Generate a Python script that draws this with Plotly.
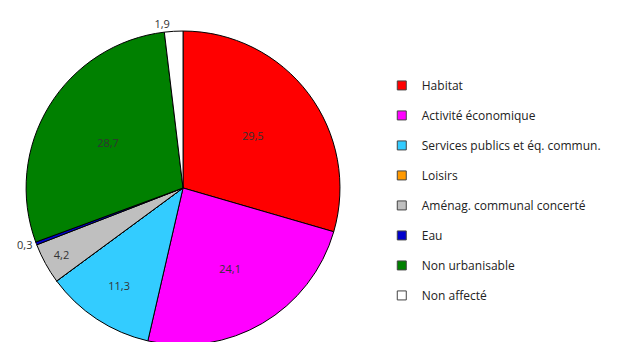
import plotly.graph_objects as go

categories = ["Habitat", "Activité économique", "Services publics et éq. commun.", "Loisirs",
              "Aménag. communal concerté", "Eau", "Non urbanisable", "Non affecté"]
values = [29.5, 24.1, 11.3, 0.0, 4.2, 0.3, 28.7, 1.9]
colors = ["#FF0000", "#FF00FF", "#33CCFF", "#FF9900", "#BFBFBF", "#0000CC", "#008000", "#FFFFFF"]

labels_txt = [("%.1f" % v).replace(".", ",") if v > 0 else "" for v in values]
positions = ["outside" if 0 < v < 2 else "inside" for v in values]

fig = go.Figure()
fig.add_trace(go.Pie(
    labels=categories, values=values, text=labels_txt, textinfo="text",
    textposition=positions, insidetextorientation="horizontal",
    sort=False, direction="clockwise", rotation=0,
    marker=dict(colors=colors, line=dict(color="#000000", width=1)),
    textfont=dict(family="Open Sans", size=11, color="#333333"),
    outsidetextfont=dict(family="Open Sans", size=11, color="#333333"),
    domain=dict(x=[0.029, 0.532], y=[0.0146, 0.933]),
    showlegend=False, hoverinfo="label+value",
))

for cat, col in zip(categories, colors):
    fig.add_trace(go.Scatter(
        x=[None], y=[None], mode="markers", name=cat, legendgroup=cat,
        marker=dict(symbol="square", size=9, color=col, line=dict(color="#444444", width=1)),
    ))

fig.update_layout(
    width=624, height=342, margin=dict(l=0, r=0, t=0, b=0),
    paper_bgcolor="white", plot_bgcolor="white",
    xaxis=dict(visible=False), yaxis=dict(visible=False),
    font=dict(family="Open Sans", size=12, color="#222222"),
    legend=dict(x=0.599, y=0.816, xanchor="left", yanchor="top", tracegroupgap=11,
                itemwidth=30, font=dict(size=12)),
)

fig.write_html("out.html")
